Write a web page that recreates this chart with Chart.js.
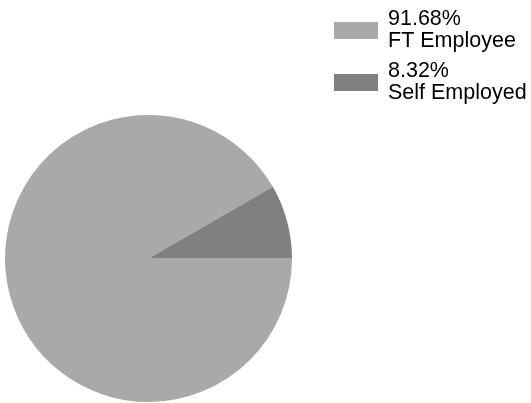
<!DOCTYPE html>
<html lang="en">
<head>
  <meta charset="UTF-8" />
  <title>Employment Type</title>
  <script src="https://cdn.jsdelivr.net/npm/chart.js"></script>
  <style>
    * { margin: 0; padding: 0; box-sizing: border-box; }
    body { background: #ffffff; width: 531px; height: 403px; overflow: hidden; }
    canvas { display: block; }
  </style>
</head>
<body>
  <canvas id="pieChart" width="531" height="403"></canvas>

  <script>
    const categories = ['FT Employee', 'Self Employed'];
    const shares = [91.68, 8.32];
    const sliceColors = ['#a9a9a9', '#808080'];

    // legend drawn by hand: two text lines per item (percent, then name)
    const stackedLegend = {
      id: 'stackedLegend',
      afterDraw(chart) {
        const ctx = chart.ctx;
        const ds = chart.data.datasets[0];
        ctx.save();
        ctx.font = '21.5px "Liberation Sans", Arial, sans-serif';
        ctx.textBaseline = 'alphabetic';
        ctx.textAlign = 'left';
        chart.data.labels.forEach((label, i) => {
          const top = 22 + i * 52;
          ctx.fillStyle = ds.backgroundColor[i];
          ctx.fillRect(334, top, 44, 17);
          ctx.fillStyle = '#000000';
          ctx.fillText(ds.data[i].toFixed(2) + '%', 388, top + 3);
          ctx.fillText(label, 388, top + 25);
        });
        ctx.restore();
      }
    };

    new Chart(document.getElementById('pieChart'), {
      type: 'pie',
      data: {
        labels: categories,
        datasets: [{
          data: shares,
          backgroundColor: sliceColors,
          borderWidth: 0
        }]
      },
      options: {
        responsive: false,
        animation: false,
        rotation: 90,
        layout: { padding: { left: 5, top: 115, right: 239, bottom: 1 } },
        events: [],
        plugins: {
          legend: { display: false },
          tooltip: { enabled: false }
        }
      },
      plugins: [stackedLegend]
    });
  </script>
</body>
</html>
